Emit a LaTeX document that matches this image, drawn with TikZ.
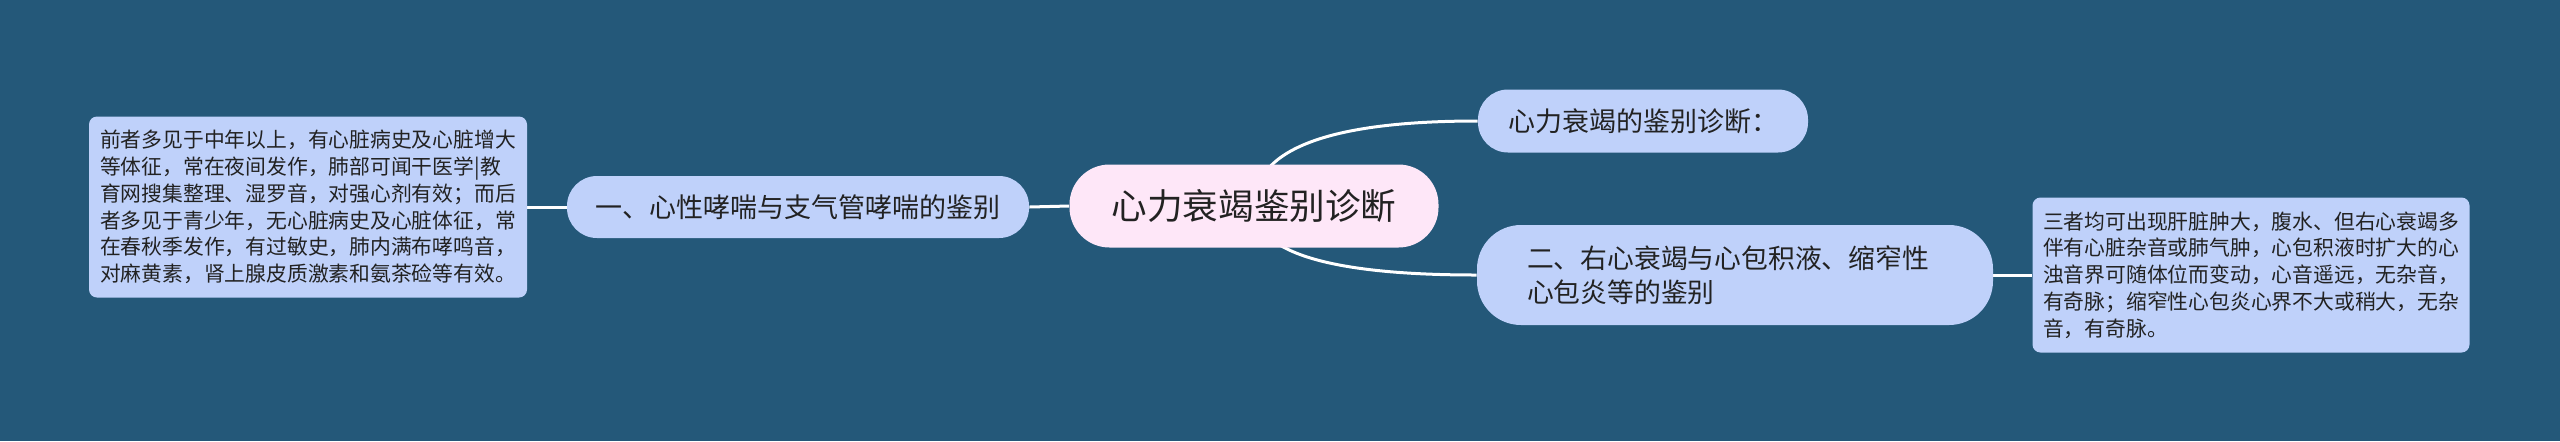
\documentclass[tikz,border=0pt]{standalone}
\usepackage{fontspec}
\setmainfont{Noto Sans CJK SC}
\usetikzlibrary{calc}
\definecolor{canvas}{RGB}{36,88,121}
\definecolor{leaf}{RGB}{191,209,250}
\definecolor{rootfill}{RGB}{254,231,248}
\definecolor{ink}{RGB}{34,34,34}
\pgfdeclarelayer{bgfill}
\pgfdeclarelayer{links}
\pgfsetlayers{bgfill,links,main}

\begin{document}
\begin{tikzpicture}[x=0.5pt,y=-0.5pt,
   link/.style={draw=white,line width=1.5pt},
   topic/.style={fill=leaf,text=ink,inner sep=0pt,align=center},
   memo/.style={fill=leaf,text=ink,rounded corners=4pt,inner xsep=5pt,
     inner ysep=0pt,align=left,font=\fontsize{10.4pt}{13.4pt}\selectfont}]
   \useasboundingbox (0,0) rectangle (2560,441);
   \begin{pgfonlayer}{bgfill}
    \fill[canvas] (0,0) rectangle (2560,441);
   \end{pgfonlayer}
   % centre and main branches
   \node[topic,fill=rootfill,minimum width=184.5pt,minimum height=41.5pt,
     rounded corners=20pt,font=\fontsize{17.8pt}{20pt}\selectfont]
     (root) at (1254,206) {心力衰竭鉴别诊断};
   \node[topic,minimum width=231pt,minimum height=31pt,rounded corners=15pt,
     font=\fontsize{13.5pt}{16pt}\selectfont]
     (asthma) at (798,207) {一、心性哮喘与支气管哮喘的鉴别};
   \node[topic,minimum width=165pt,minimum height=31.5pt,rounded corners=15pt,
     font=\fontsize{13.5pt}{16pt}\selectfont]
     (title) at (1643,121) {心力衰竭的鉴别诊断：};
   \node[topic,align=left,text width=208pt,inner xsep=25pt,minimum height=50pt,
     rounded corners=22pt,font=\fontsize{13.4pt}{17pt}\selectfont]
     (pericard) at (1735,275) {二、右心衰竭与心包积液、缩窄性\\心包炎等的鉴别};
   % notes
   \node[memo,minimum width=219pt,minimum height=90.5pt]
     (asthmanote) at (308,207) {前者多见于中年以上，有心脏病史及心脏增大\\
     等体征，常在夜间发作，肺部可闻干医学|教\\
     育网搜集整理、湿罗音，对强心剂有效；而后\\
     者多见于青少年，无心脏病史及心脏体征，常\\
     在春秋季发作，有过敏史，肺内满布哮鸣音，\\
     对麻黄素，肾上腺皮质激素和氨茶硷等有效。};
   \node[memo,minimum width=218.5pt,minimum height=77.5pt]
     (pericardnote) at (2251,275) {三者均可出现肝脏肿大，腹水、但右心衰竭多\\
     伴有心脏杂音或肺气肿，心包积液时扩大的心\\
     浊音界可随体位而变动，心音遥远，无杂音，\\
     有奇脉；缩窄性心包炎心界不大或稍大，无杂\\
     音，有奇脉。};
   % connectors
   \begin{pgfonlayer}{links}
    \draw[link] (asthmanote.east) -- (asthma.west);
    \draw[link] (asthma.east) -- (root.west);
    \draw[link] (root.center)
      .. controls ($(root.center)!0.667!(root.center |- title.west)$)
      and ($(title.west)!0.667!(root.center |- title.west)$) .. (title.west);
    \draw[link] (root.center)
      .. controls ($(root.center)!0.667!(root.center |- pericard.west)$)
      and ($(pericard.west)!0.667!(root.center |- pericard.west)$) .. (pericard.west);
    \draw[link] (pericard.east) -- (pericardnote.west);
   \end{pgfonlayer}
  \end{tikzpicture}
\end{document}
